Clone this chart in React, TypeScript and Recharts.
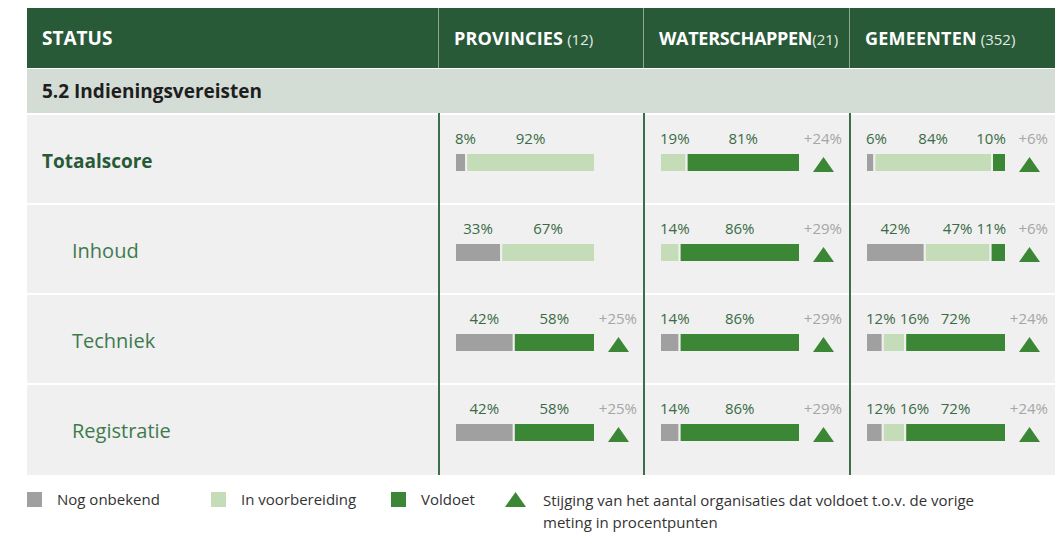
import React from 'react';
import { BarChart, Bar, XAxis, YAxis, LabelList } from 'recharts';

const categories = ['Totaalscore', 'Inhoud', 'Techniek', 'Registratie'];
const seriesKeys = ['onbekend', 'voorbereiding', 'voldoet'];
const seriesNames = ['Nog onbekend', 'In voorbereiding', 'Voldoet'];
const seriesColors = ['#a0a0a0', '#c4ddb8', '#3b8735'];

const groupNames = ['PROVINCIES', 'WATERSCHAPPEN', 'GEMEENTEN'];
const groupCounts = [' (12)', '(21)', ' (352)'];

// percentages per row: Totaalscore, Inhoud, Techniek, Registratie
const provinciesOnbekend = [8, 33, 42, 42];
const provinciesVoorbereiding = [92, 67, 0, 0];
const provinciesVoldoet = [0, 0, 58, 58];
const provinciesStijging = [0, 0, 25, 25];

const waterschappenOnbekend = [0, 0, 14, 14];
const waterschappenVoorbereiding = [19, 14, 0, 0];
const waterschappenVoldoet = [81, 86, 86, 86];
const waterschappenStijging = [24, 29, 29, 29];

const gemeentenOnbekend = [6, 42, 12, 12];
const gemeentenVoorbereiding = [84, 47, 16, 16];
const gemeentenVoldoet = [10, 11, 72, 72];
const gemeentenStijging = [6, 6, 24, 24];

const legendNote = ['Stijging van het aantal organisaties dat voldoet t.o.v. de vorige', 'meting in procentpunten'];

type Row = { name: string; onbekend: number | null; voorbereiding: number | null; voldoet: number | null; stijging: number | null };

const nz = (v: number) => (v ? v : null);

const buildRows = (a: number[], b: number[], c: number[], d: number[]): Row[] =>
  categories.map((name, i) => ({ name, onbekend: nz(a[i]), voorbereiding: nz(b[i]), voldoet: nz(c[i]), stijging: nz(d[i]) }));

const groups = [
  buildRows(provinciesOnbekend, provinciesVoorbereiding, provinciesVoldoet, provinciesStijging),
  buildRows(waterschappenOnbekend, waterschappenVoorbereiding, waterschappenVoldoet, waterschappenStijging),
  buildRows(gemeentenOnbekend, gemeentenVoorbereiding, gemeentenVoldoet, gemeentenStijging),
];

const FONT = '"Open Sans", "Noto Sans", sans-serif';
const DARK = '#285a38';
const LABEL = '#3a6b47';
const CHART_H = 360;

const textW = (s: string) => (s.length - 1) * 8.6 + 12.5;

// place the labels of one row: centred on their segment, kept inside the bar, no overlap
function layoutRow(row: Row, segKey: string, segX: number, segW: number) {
  const unit = segW / (row as any)[segKey];
  let before = 0;
  for (const k of seriesKeys) {
    if (k === segKey) break;
    before += (row as any)[k] || 0;
  }
  const start = segX - before * unit;
  const end = start + 100 * unit;
  const boxes: { k: string; w: number; left: number; text: string }[] = [];
  let cum = 0;
  seriesKeys.forEach((k) => {
    const v = (row as any)[k];
    if (!v) return;
    const text = `${v}%`;
    const w = textW(text);
    const center = start + (cum + v / 2) * unit;
    cum += v;
    boxes.push({ k, w, text, left: Math.max(start, Math.min(end - w, center - w / 2)) });
  });
  for (let i = 1; i < boxes.length; i++) {
    boxes[i].left = Math.max(boxes[i].left, boxes[i - 1].left + boxes[i - 1].w + 4);
  }
  for (let i = boxes.length - 2; i >= 0; i--) {
    boxes[i].left = Math.min(boxes[i].left, boxes[i + 1].left - 4 - boxes[i].w);
  }
  return { boxes, start, end };
}

const makeLabel = (rows: Row[], key: string) => (props: any) => {
  const { x, y, width, height, value } = props;
  if (!value) return null;
  // which category band this bar sits in
  const ri = Math.min(rows.length - 1, Math.floor((Number(y) + Number(height) / 2) / (CHART_H / rows.length)));
  const row = rows[ri];
  if (!(row as any)[key]) return null;
  const { boxes, end } = layoutRow(row, key, Number(x), Number(width));
  const box = boxes.find((b) => b.k === key);
  const ty = Number(y) - 9;
  const bottom = Number(y) + Number(height);
  const tx = end + 23.5;
  return (
    <g>
      {box && (
        <text x={box.left} y={ty} fill={LABEL} fontSize={15} fontFamily={FONT}>
          {box.text}
        </text>
      )}
      {key === 'voldoet' && row.stijging ? (
        <g>
          <text x={end + 42} y={ty} textAnchor="end" fill="#a6a6a6" fontSize={15} fontFamily={FONT}>
            {`+${row.stijging}%`}
          </text>
          <polygon points={`${tx - 10.5},${bottom} ${tx + 10.5},${bottom} ${tx},${bottom - 15}`} fill={seriesColors[2]} />
        </g>
      ) : null}
    </g>
  );
};

const colLeft = [438, 643, 849];
const rowTops = [115, 205, 295, 385];
const rowHeights = [88, 88, 88, 90];

export default function App() {
  return (
    <div style={{ position: 'absolute', left: 0, top: 0, width: 1058, height: 534, background: '#fff', fontFamily: FONT, overflow: 'hidden' }}>
      {/* header */}
      <div style={{ position: 'absolute', left: 27, top: 8, width: 1028, height: 60, background: DARK }} />
      <div style={{ position: 'absolute', left: 42, top: 8, height: 60, lineHeight: '60px', color: '#fff', fontWeight: 700, fontSize: 19 }}>STATUS</div>
      {groupNames.map((g, i) => (
        <React.Fragment key={g}>
          <div style={{ position: 'absolute', left: colLeft[i], top: 8, width: 1, height: 60, background: '#8ca794' }} />
          <div style={{ position: 'absolute', left: colLeft[i] + 16, top: 8, height: 60, lineHeight: '60px', color: '#fff', whiteSpace: 'nowrap' }}>
            <span style={{ fontWeight: 700, fontSize: 18, letterSpacing: i === 1 ? -0.3 : 0.2 }}>{g}</span>
            <span style={{ fontSize: 15, color: '#e4ebe6' }}>{groupCounts[i]}</span>
          </div>
        </React.Fragment>
      ))}

      {/* sub header */}
      <div style={{ position: 'absolute', left: 27, top: 69, width: 1028, height: 44, background: '#d4ddd5' }} />
      <div style={{ position: 'absolute', left: 42, top: 69, height: 44, lineHeight: '44px', color: '#1e1e1e', fontWeight: 700, fontSize: 19 }}>
        5.2 Indieningsvereisten
      </div>

      {/* rows */}
      {categories.map((c, i) => (
        <React.Fragment key={c}>
          <div style={{ position: 'absolute', left: 27, top: rowTops[i], width: 1028, height: rowHeights[i], background: '#f0f0f0' }} />
          <div
            style={{
              position: 'absolute',
              left: i === 0 ? 42 : 72,
              top: rowTops[i],
              height: 90,
              lineHeight: '92px',
              color: i === 0 ? DARK : '#3e7a4e',
              fontWeight: i === 0 ? 700 : 400,
              fontSize: i === 0 ? 19 : 20,
            }}
          >
            {c}
          </div>
        </React.Fragment>
      ))}
      {colLeft.map((l) => (
        <div key={l} style={{ position: 'absolute', left: l, top: 113, width: 1.5, height: 362, background: '#3d6e4a' }} />
      ))}

      {/* bars */}
      {groups.map((rows, gi) => (
        <div key={gi} style={{ position: 'absolute', left: colLeft[gi], top: 117 }}>
          <BarChart width={205} height={CHART_H} data={rows} layout="vertical" margin={{ top: 0, right: 48, bottom: 0, left: 17 }}>
            <XAxis type="number" domain={[0, 100]} hide />
            <YAxis type="category" dataKey="name" hide />
            {seriesKeys.map((k, si) => (
              <Bar key={k} dataKey={k} name={seriesNames[si]} stackId="a" fill={seriesColors[si]} stroke="#f0f0f0" strokeWidth={2} barSize={19} isAnimationActive={false}>
                <LabelList dataKey={k} content={makeLabel(rows, k)} />
              </Bar>
            ))}
          </BarChart>
        </div>
      ))}

      {/* legend */}
      {seriesNames.map((n, i) => {
        const lx = [27, 211, 391][i];
        return (
          <React.Fragment key={n}>
            <div style={{ position: 'absolute', left: lx, top: 492, width: 15, height: 15, background: seriesColors[i] }} />
            <div style={{ position: 'absolute', left: lx + 30, top: 489, fontSize: 15, color: '#333', whiteSpace: 'nowrap' }}>{n}</div>
          </React.Fragment>
        );
      })}
      <svg style={{ position: 'absolute', left: 505, top: 492 }} width={22} height={16}>
        <polygon points="0,15 21,15 10.5,0" fill={seriesColors[2]} />
      </svg>
      <div style={{ position: 'absolute', left: 543, top: 489, fontSize: 15, color: '#333', lineHeight: '22px', whiteSpace: 'nowrap' }}>
        {legendNote[0]}
        <br />
        {legendNote[1]}
      </div>
    </div>
  );
}
